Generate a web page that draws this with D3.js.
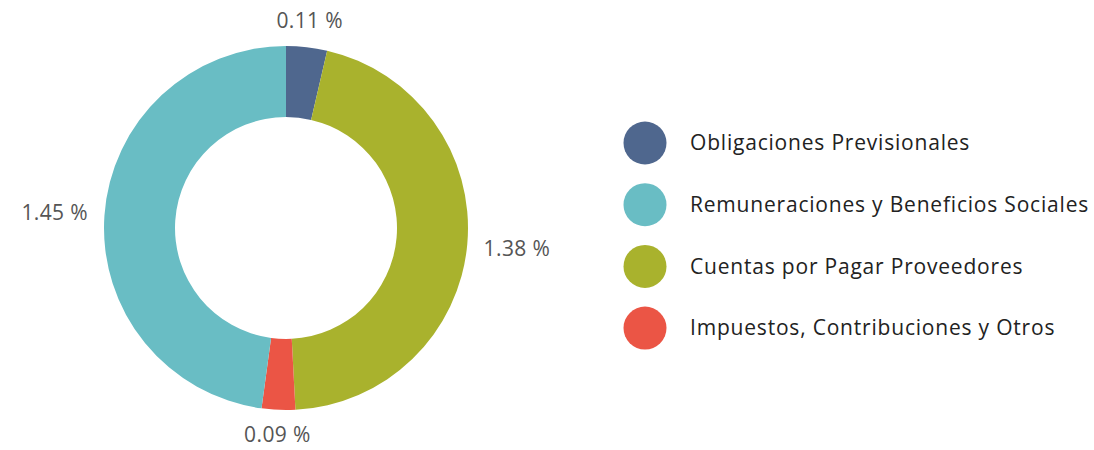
<!DOCTYPE html>
<html>
<head>
<meta charset="UTF-8">
<title>Donut</title>
<script src="https://d3js.org/d3.v7.min.js"></script>
<style>
  body { margin: 0; background: #fff; font-family: "Open Sans", sans-serif; }
  .pct { font-size: 21px; fill: #555; letter-spacing: 0.4px; }
  .legend text { font-size: 21px; fill: #222; letter-spacing: 0.8px; }
</style>
</head>
<body>
<div id="chart"></div>
<script>
// data, in clockwise order from the top
const categories = ["Obligaciones Previsionales", "Cuentas por Pagar Proveedores", "Impuestos, Contribuciones y Otros", "Remuneraciones y Beneficios Sociales"];
const values = [0.11, 1.38, 0.09, 1.45];
const colors = ["#4f678e", "#a9b22d", "#eb5545", "#69bdc4"];
// legend order
const legendOrder = ["Obligaciones Previsionales", "Remuneraciones y Beneficios Sociales", "Cuentas por Pagar Proveedores", "Impuestos, Contribuciones y Otros"];

const width = 1094, height = 450;
const cx = 286, cy = 228, outerR = 182, innerR = 111, labelGap = 198;

const svg = d3.select("#chart").append("svg")
  .attr("width", width)
  .attr("height", height);

const color = d3.scaleOrdinal().domain(categories).range(colors);

const pie = d3.pie().sort(null).value(d => d.value);
const data = categories.map((c, i) => ({ name: c, value: values[i] }));
const arcs = pie(data);

const arc = d3.arc().innerRadius(innerR).outerRadius(outerR);

const g = svg.append("g").attr("transform", "translate(" + cx + "," + cy + ")");

g.selectAll("path")
  .data(arcs)
  .enter().append("path")
    .attr("d", arc)
    .attr("fill", d => color(d.data.name));

// percent labels outside the ring, pushed out by their own box size
g.selectAll("text.pct")
  .data(arcs)
  .enter().append("text")
    .attr("class", "pct")
    .attr("text-anchor", "middle")
    .attr("dy", "0.35em")
    .text(d => d3.format(".2f")(d.data.value) + " %")
    .each(function(d) {
      const a = (d.startAngle + d.endAngle) / 2;
      const s = Math.sin(a), c = Math.cos(a);
      const b = this.getBBox();
      const r = labelGap + Math.abs(s) * b.width / 2 + Math.abs(c) * b.height / 2 * 0.5;
      d3.select(this).attr("x", r * s).attr("y", -r * c);
    });

// legend
const legend = svg.append("g").attr("class", "legend")
  .attr("transform", "translate(645,143)");

const item = legend.selectAll("g")
  .data(legendOrder)
  .enter().append("g")
    .attr("transform", (d, i) => "translate(0," + i * 61.7 + ")");

item.append("circle")
  .attr("r", 21.5)
  .attr("fill", d => color(d));

item.append("text")
  .attr("x", 45)
  .attr("dy", "0.35em")
  .text(d => d);
</script>
</body>
</html>
